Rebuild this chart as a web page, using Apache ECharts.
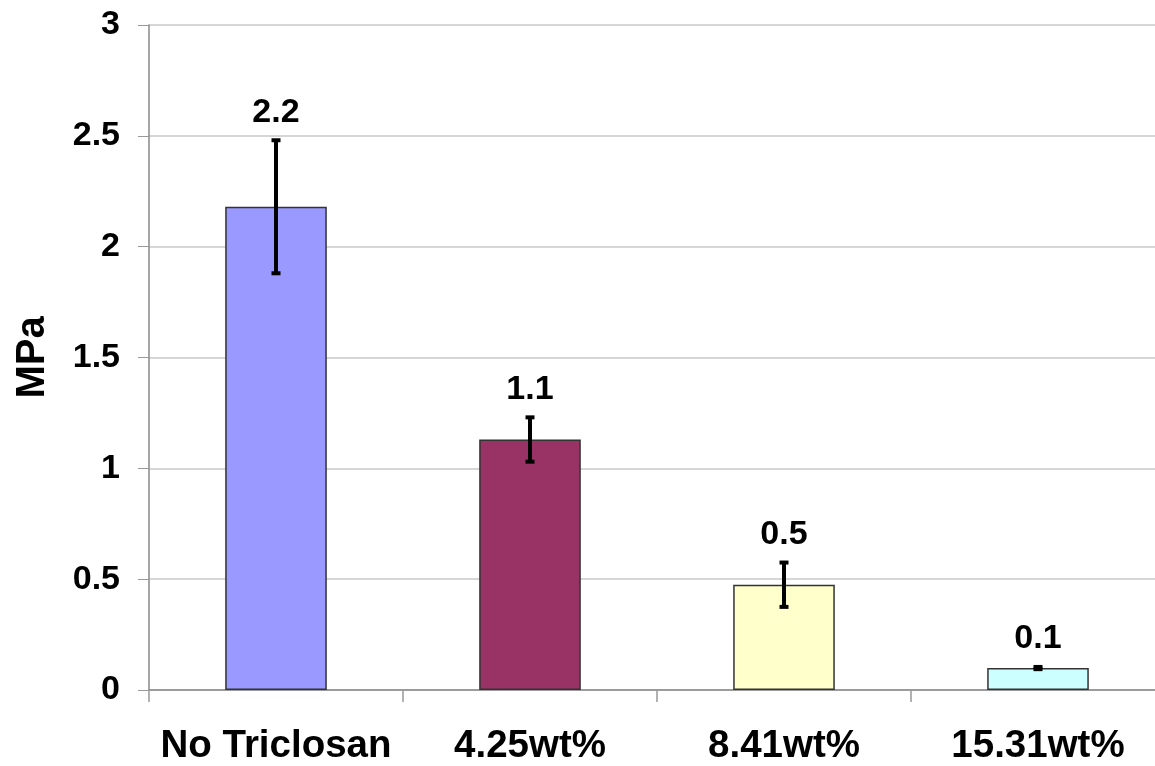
<!DOCTYPE html>
<html>
<head>
<meta charset="utf-8">
<script src="https://cdn.jsdelivr.net/npm/echarts@6/dist/echarts.min.js"></script>
<style>
html,body{margin:0;padding:0;background:#fff;}
#chart{width:1155px;height:766px;}
</style>
</head>
<body>
<div id="chart"></div>
<script>
var categories = ['No Triclosan', '4.25wt%', '8.41wt%', '15.31wt%'];
var means = [2.18, 1.13, 0.475, 0.099];
var errors = [0.30, 0.10, 0.10, 0.005];
var barColors = ['#9999FF', '#993366', '#FFFFCC', '#CCFFFF'];
var yTicks = [0, 0.5, 1, 1.5, 2, 2.5, 3];

var FONT = '"Liberation Sans", Arial, sans-serif';
var chart = echarts.init(document.getElementById('chart'));

var errData = means.map(function (m, i) { return [i, m, errors[i]]; });

chart.setOption({
  animation: false,
  grid: { left: 149, top: 25, right: -10, bottom: 76, containLabel: false, outerBoundsMode: 'none' },
  xAxis: {
    type: 'category',
    data: categories,
    axisLine: { lineStyle: { color: '#888', width: 1.5 } },
    axisTick: { show: true, length: 12, lineStyle: { color: '#999', width: 1.5 } },
    axisLabel: { fontFamily: FONT, fontWeight: 'bold', fontSize: 38.5, color: '#000', margin: 37, interval: 0 }
  },
  yAxis: {
    type: 'value',
    min: 0, max: 3, interval: 0.5,
    name: 'MPa',
    nameLocation: 'middle',
    nameGap: 96,
    nameTextStyle: { fontFamily: FONT, fontWeight: 'bold', fontSize: 40, color: '#000' },
    axisLine: { show: true, lineStyle: { color: '#888', width: 1.5 } },
    axisTick: { show: true, length: 11, lineStyle: { color: '#999', width: 1 } },
    axisLabel: {
      fontFamily: FONT, fontWeight: 'bold', fontSize: 34, color: '#000', margin: 29,
      padding: [4, 0, 0, 0],
      formatter: function (v) { return yTicks.indexOf(v) >= 0 ? String(v) : ''; }
    },
    splitLine: { show: true, lineStyle: { color: '#c8c8c8', width: 1.5 } }
  },
  series: [
    {
      type: 'bar',
      data: means.map(function (v, i) {
        return { value: v, itemStyle: { color: barColors[i] } };
      }),
      barWidth: '40%',
      itemStyle: { borderColor: '#333', borderWidth: 1.5 },
      z: 2
    },
    {
      type: 'custom',
      data: errData,
      z: 5,
      renderItem: function (params, api) {
        var x = api.value(0), m = api.value(1), e = api.value(2);
        var top = api.coord([x, m + e]);
        var bot = api.coord([x, m - e]);
        var cx = top[0];
        var cap = 4.5;
        var label = (Math.round(m * 10) / 10).toFixed(1);
        return {
          type: 'group',
          children: [
            { type: 'line', shape: { x1: cx, y1: top[1], x2: cx, y2: bot[1] }, style: { stroke: '#000', lineWidth: 4 } },
            { type: 'line', shape: { x1: cx - cap, y1: top[1], x2: cx + cap, y2: top[1] }, style: { stroke: '#000', lineWidth: 4 } },
            { type: 'line', shape: { x1: cx - cap, y1: bot[1], x2: cx + cap, y2: bot[1] }, style: { stroke: '#000', lineWidth: 4 } },
            { type: 'text', x: cx, y: top[1] - 28, style: {
                text: label, fontFamily: FONT, fontWeight: 'bold', fontSize: 34, fill: '#000',
                align: 'center', verticalAlign: 'middle' } }
          ]
        };
      }
    }
  ]
});
</script>
</body>
</html>
